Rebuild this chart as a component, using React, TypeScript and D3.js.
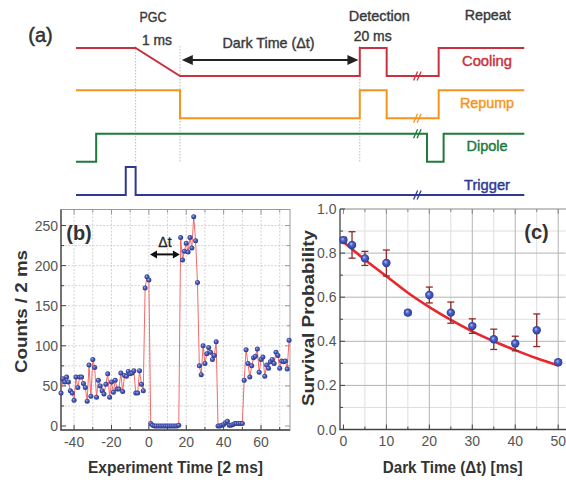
import React from 'react';
import * as d3 from 'd3';

const W = 566;
const H = 482;
const FONT = "'Liberation Sans', Arial, sans-serif";

// ---- panel (a): timing sequence (time in arbitrary units 0..100, level 0/1)
const channelNames = ['Cooling', 'Repump', 'Dipole', 'Trigger'];
const channelColors = ['#c9313f', '#f7941d', '#1f7a3d', '#2e3a92'];
const coolingWave = [[0, 1], [13.3, 1], [23.2, 0], [63.3, 0], [63.3, 1], [69.3, 1], [69.3, 0], [80.9, 0], [80.9, 1], [100, 1]];
const repumpWave = [[0, 1], [23.2, 1], [23.2, 0], [63.3, 0], [63.3, 1], [69.3, 1], [69.3, 0], [80.9, 0], [80.9, 1], [100, 1]];
const dipoleWave = [[0, 0], [4.5, 0], [4.5, 1], [78.3, 1], [78.3, 0], [82.0, 0], [82.0, 1], [100, 1]];
const triggerWave = [[0, 0], [11.1, 0], [11.1, 1], [13.3, 1], [13.3, 0], [100, 0]];
const markerTimes = [13.3, 23.2, 63.3];
const breakTime = 76.2;

// ---- panel (b): counts per 2 ms bin
const expTime = d3.range(-47, 76);
const counts = [
  41, 59, 55, 61, 55, 44, 41, 32, 61, 48, 61, 61, 53, 48, 31, 76, 37, 83, 73, 36,
  57, 50, 44, 40, 52, 65, 36, 55, 42, 57, 46, 46, 66, 43, 63, 62, 68, 65, 66, 69,
  41, 41, 69, 52, 44,
  172, 186, 182,
  3,
  1, 0, 0, 0, 0, 0, 0, 0, 0, 0, 0, 0, 0, 0, 1,
  235, 207, 218, 228, 217, 235, 222, 261, 231, 179,
  75, 64, 100, 78, 90, 98, 92, 83, 88, 105,
  0, 0, 1, 2, 4, 6, 1, 1, 2, 3, 3, 3, 3, 3,
  57, 95, 78, 61, 75, 85, 87, 96, 67, 83, 86, 62, 76, 72, 80, 83, 78, 92, 88, 72,
  81, 80, 81, 71, 107,
];
const bTicksX = [-40, -20, 0, 20, 40, 60];
const bTicksY = [0, 50, 100, 150, 200, 250];

// ---- panel (c): survival vs dark time
const darkTime = [0, 2, 5, 10, 15, 20, 25, 30, 35, 40, 45, 50];
const survival = [0.859, 0.837, 0.776, 0.755, 0.53, 0.61, 0.53, 0.469, 0.409, 0.39, 0.45, 0.305];
const survivalErr = [0.012, 0.06, 0.032, 0.059, 0.01, 0.036, 0.048, 0.033, 0.046, 0.033, 0.074, 0.01];
const fitTime = [0, 5, 10, 15, 20, 25, 30, 35, 40, 45, 50];
const fitProb = [0.85, 0.77, 0.695, 0.62, 0.555, 0.497, 0.445, 0.4, 0.36, 0.323, 0.29];
const cTicksX = [0, 10, 20, 30, 40, 50];
const cTicksY = [0, 0.2, 0.4, 0.6, 0.8, 1.0];

const Arrow = ({x1, x2, y, head = 10, half = 5, w = 2, color = '#222'}) => (
  <g>
    <line x1={x1 + head - 1} x2={x2 - head + 1} y1={y} y2={y} stroke={color} strokeWidth={w} />
    <path d={`M${x1},${y}L${x1 + head},${y - half}L${x1 + head},${y + half}Z`} fill={color} />
    <path d={`M${x2},${y}L${x2 - head},${y - half}L${x2 - head},${y + half}Z`} fill={color} />
  </g>
);

const PanelA = () => {
  const t = d3.scaleLinear().domain([0, 100]).range([76, 524.3]);
  const lvl = d3.scaleLinear().domain([0, 1]).range([0, -28]);
  const rowBase = {Cooling: 76, Repump: 118.3, Dipole: 161.7, Trigger: 195};
  const waves = [coolingWave, repumpWave, dipoleWave, triggerWave];
  const labelY = {Cooling: 66, Repump: 107.5, Dipole: 150.7, Trigger: 190};
  const labelW = {Cooling: 50, Repump: 54, Dipole: 41, Trigger: 46};
  const bx = t(breakTime);
  return (
    <g>
      {markerTimes.map((m, i) => (
        <line key={i} x1={t(m)} x2={t(m)} y1={46} y2={162} stroke="#aaa" strokeWidth={0.8} strokeDasharray="1.5,1.5" />
      ))}
      {channelNames.map((name, i) => {
        const base = rowBase[name];
        const line = d3.line().x(d => t(d[0])).y(d => base + lvl(d[1]));
        return (
          <g key={name}>
            <path d={line(waves[i])} fill="none" stroke={channelColors[i]} strokeWidth={2} />
            <text x={487} y={labelY[name]} textAnchor="middle" fontSize={15} fontFamily={FONT}
              fill={channelColors[i]} textLength={labelW[name]} lengthAdjust="spacingAndGlyphs"
              stroke={channelColors[i]} strokeWidth={0.45}>{name}</text>
          </g>
        );
      })}
      {channelNames.map((name, i) => {
        let level = 0;
        for (const d of waves[i]) if (d[0] <= breakTime) level = d[1];
        const y = rowBase[name] + lvl(level);
        return (
          <g key={'b' + name} stroke={channelColors[i]} strokeWidth={1.3}>
            <line x1={bx - 4} y1={y + 4.5} x2={bx} y2={y - 4.5} />
            <line x1={bx - 0.5} y1={y + 4.5} x2={bx + 3.5} y2={y - 4.5} />
          </g>
        );
      })}
      <Arrow x1={t(23.6)} x2={t(63.0)} y={60} head={11} half={5} w={2} />
      <g fontFamily={FONT} fontSize={14.5} fill="#3a3a3a" textAnchor="middle" stroke="#3a3a3a" strokeWidth={0.4}>
        <text x={153} y={22} textLength={27} lengthAdjust="spacingAndGlyphs">PGC</text>
        <text x={157} y={45} textLength={30} lengthAdjust="spacingAndGlyphs">1 ms</text>
        <text x={268.5} y={48} textLength={92} lengthAdjust="spacingAndGlyphs">Dark Time (Δt)</text>
        <text x={379.3} y={20.7} textLength={61} lengthAdjust="spacingAndGlyphs">Detection</text>
        <text x={372.7} y={41} textLength={38} lengthAdjust="spacingAndGlyphs">20 ms</text>
        <text x={487.7} y={20} textLength={46} lengthAdjust="spacingAndGlyphs">Repeat</text>
      </g>
      <text x={40.5} y={42} textAnchor="middle" fontFamily={FONT} fontSize={20} fill="#333" stroke="#333" strokeWidth={0.5}>(a)</text>
    </g>
  );
};

const PanelB = () => {
  const x = d3.scaleLinear().domain([-47, 75.5]).range([61, 290]);
  const y = d3.scaleLinear().domain([-5, 270]).range([430, 209.5]);
  const pts = expTime.map((tt, i) => [tt, counts[i]]);
  const line = d3.line().x(d => x(d[0])).y(d => y(d[1]));
  const gridX = d3.range(-40, 76, 10);
  const gridY = d3.range(25, 270, 25);
  return (
    <g>
      {gridX.map(v => (
        <line key={'gx' + v} x1={x(v)} x2={x(v)} y1={209.5} y2={430} stroke="#c8c8c8" strokeWidth={0.8} strokeDasharray="2,1.5" />
      ))}
      {gridY.map(v => (
        <line key={'gy' + v} x1={61} x2={290} y1={y(v)} y2={y(v)} stroke="#c8c8c8" strokeWidth={0.8} strokeDasharray="2,1.5" />
      ))}
      <rect x={61} y={209.5} width={229} height={220.5} fill="none" stroke="#999" strokeWidth={1} />
      <line x1={61} x2={61} y1={209.5} y2={430.5} stroke="#444" strokeWidth={1.3} />
      <line x1={60.5} x2={290} y1={430} y2={430} stroke="#444" strokeWidth={1.3} />
      {gridX.map(v => (
        <g key={'tx' + v}>
          <line x1={x(v)} x2={x(v)} y1={430} y2={bTicksX.includes(v) ? 425 : 427} stroke="#444" />
          <line x1={x(v)} x2={x(v)} y1={209.5} y2={bTicksX.includes(v) ? 214.5 : 212.5} stroke="#999" />
        </g>
      ))}
      {[0, ...gridY].map(v => (
        <g key={'ty' + v}>
          <line x1={61} x2={bTicksY.includes(v) ? 66 : 64} y1={y(v)} y2={y(v)} stroke="#444" />
          <line x1={290} x2={bTicksY.includes(v) ? 285 : 287} y1={y(v)} y2={y(v)} stroke="#999" />
        </g>
      ))}
      <path d={line(pts)} fill="none" stroke="#f05a5a" strokeWidth={0.9} />
      {pts.map((d, i) => (
        <circle key={i} cx={x(d[0])} cy={y(d[1])} r={2.5} fill="url(#ballB)" />
      ))}
      <Arrow x1={x(0.6)} x2={x(16.6)} y={y(214)} head={7} half={4} w={2} color="#111" />
      <text x={x(8.6)} y={246.5} textAnchor="middle" fontFamily={FONT} fontSize={14} fill="#222" stroke="#222" strokeWidth={0.3}>Δt</text>
      <text x={79} y={240} textAnchor="middle" fontFamily={FONT} fontWeight="bold" fontSize={20} fill="#333">(b)</text>
      <g fontFamily={FONT} fontSize={14} fill="#555">
        {bTicksY.map(v => (
          <text key={v} x={58} y={y(v) + 5} textAnchor="end">{v}</text>
        ))}
        {bTicksX.map(v => (
          <text key={v} x={x(v)} y={447} textAnchor="middle">{v}</text>
        ))}
      </g>
      <text x={175.5} y={473} textAnchor="middle" fontFamily={FONT} fontWeight="bold" fontSize={16.5} fill="#333"
        textLength={175} lengthAdjust="spacingAndGlyphs">Experiment Time [2 ms]</text>
      <text transform="translate(26.5,311.5) rotate(-90)" textAnchor="middle" fontFamily={FONT} fontWeight="bold"
        fontSize={16.5} fill="#333" textLength={123} lengthAdjust="spacingAndGlyphs">Counts / 2 ms</text>
    </g>
  );
};

const PanelC = () => {
  const x = d3.scaleLinear().domain([-0.8, 51.7]).range([340, 565.5]);
  const y = d3.scaleLinear().domain([0, 1]).range([429.5, 209]);
  const minorX = d3.range(5, 52, 10);
  const minorY = d3.range(0.1, 1, 0.2);
  const fitLine = d3.line().x(d => x(d[0])).y(d => y(d[1])).curve(d3.curveMonotoneX);
  return (
    <g>
      {minorX.map(v => (
        <line key={'mx' + v} x1={x(v)} x2={x(v)} y1={209} y2={429.5} stroke="#dedede" strokeWidth={1} />
      ))}
      {minorY.map(v => (
        <line key={'my' + v} x1={340} x2={565.5} y1={y(v)} y2={y(v)} stroke="#dedede" strokeWidth={1} />
      ))}
      {cTicksX.filter(v => v > 0).map(v => (
        <line key={'gx' + v} x1={x(v)} x2={x(v)} y1={209} y2={429.5} stroke="#b4b4b4" strokeWidth={1} />
      ))}
      {cTicksY.filter(v => v > 0 && v < 1).map(v => (
        <line key={'gy' + v} x1={340} x2={565.5} y1={y(v)} y2={y(v)} stroke="#b4b4b4" strokeWidth={1} />
      ))}
      <line x1={340} x2={566} y1={209} y2={209} stroke="#888" strokeWidth={1} />
      <line x1={340} x2={340} y1={209} y2={430} stroke="#444" strokeWidth={1.3} />
      <line x1={339.5} x2={566} y1={429.5} y2={429.5} stroke="#444" strokeWidth={1.3} />
      {[...cTicksX, ...minorX].map(v => (
        <g key={'tx' + v}>
          <line x1={x(v)} x2={x(v)} y1={429.5} y2={cTicksX.includes(v) ? 424.5 : 426.5} stroke="#444" />
          <line x1={x(v)} x2={x(v)} y1={209} y2={cTicksX.includes(v) ? 214 : 212} stroke="#888" />
        </g>
      ))}
      {[...cTicksY, ...minorY].map(v => (
        <line key={'ty' + v} x1={340} x2={cTicksY.includes(v) ? 345 : 343} y1={y(v)} y2={y(v)} stroke="#444" />
      ))}
      <path d={fitLine(fitTime.map((tt, i) => [tt, fitProb[i]]))} fill="none" stroke="#e8262b" strokeWidth={2.6} />
      {darkTime.map((tt, i) => (
        <g key={'e' + i} stroke="#8e2a2a" strokeWidth={1.3}>
          <line x1={x(tt)} x2={x(tt)} y1={y(survival[i] - survivalErr[i])} y2={y(survival[i] + survivalErr[i])} />
          <line x1={x(tt) - 3.5} x2={x(tt) + 3.5} y1={y(survival[i] - survivalErr[i])} y2={y(survival[i] - survivalErr[i])} />
          <line x1={x(tt) - 3.5} x2={x(tt) + 3.5} y1={y(survival[i] + survivalErr[i])} y2={y(survival[i] + survivalErr[i])} />
        </g>
      ))}
      {darkTime.map((tt, i) => (
        <circle key={'p' + i} cx={x(tt)} cy={y(survival[i])} r={4.2} fill="url(#ballC)" />
      ))}
      <text x={536.5} y={239} textAnchor="middle" fontFamily={FONT} fontWeight="bold" fontSize={20} fill="#333">(c)</text>
      <g fontFamily={FONT} fontSize={14} fill="#555">
        {cTicksY.map(v => (
          <text key={v} x={336.5} y={y(v) + 5} textAnchor="end">{v.toFixed(1)}</text>
        ))}
        {cTicksX.map(v => (
          <text key={v} x={x(v)} y={446} textAnchor="middle">{v}</text>
        ))}
      </g>
      <text x={452.7} y={473} textAnchor="middle" fontFamily={FONT} fontWeight="bold" fontSize={16.5} fill="#333"
        textLength={140} lengthAdjust="spacingAndGlyphs">Dark Time (Δt) [ms]</text>
      <text transform="translate(314,318) rotate(-90)" textAnchor="middle" fontFamily={FONT} fontWeight="bold"
        fontSize={17} fill="#333" textLength={176} lengthAdjust="spacingAndGlyphs">Survival Probability</text>
    </g>
  );
};

export default function App() {
  return (
    <svg width={W} height={H} style={{position: 'absolute', left: 0, top: 0, background: '#fff'}}>
      <defs>
        <radialGradient id="ballB" cx="50%" cy="50%" r="55%" fx="35%" fy="32%">
          <stop offset="0%" stopColor="#aab4ee" />
          <stop offset="45%" stopColor="#4a5cb8" />
          <stop offset="100%" stopColor="#26307e" />
        </radialGradient>
        <radialGradient id="ballC" cx="50%" cy="50%" r="55%" fx="38%" fy="35%">
          <stop offset="0%" stopColor="#b8c4f4" />
          <stop offset="40%" stopColor="#4a62c8" />
          <stop offset="100%" stopColor="#27358c" />
        </radialGradient>
      </defs>
      <rect width={W} height={H} fill="#fff" />
      <PanelA />
      <PanelB />
      <PanelC />
    </svg>
  );
}
